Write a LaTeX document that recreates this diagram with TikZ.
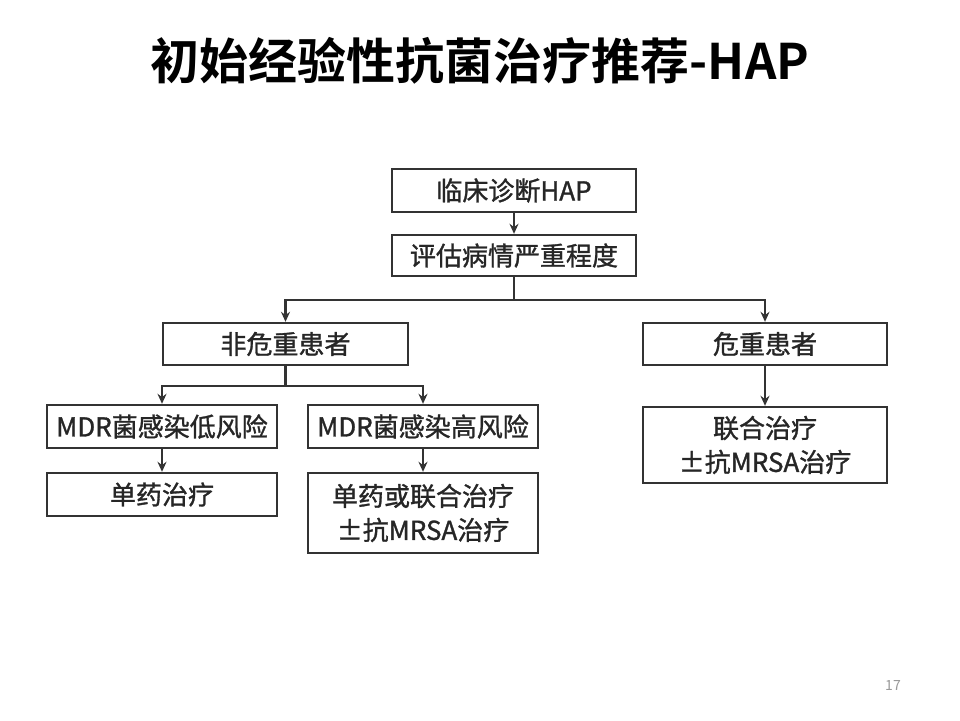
\documentclass[tikz,border=0pt]{standalone}
\usepackage{fontspec}
\newfontfamily\cjk{Noto Sans CJK SC}
\newfontfamily\cjkbox{Noto Sans CJK SC}[FakeBold=1.2]
\newfontfamily\cjkbold{Noto Sans CJK SC Bold}
\usetikzlibrary{arrows.meta}
\definecolor{linegray}{HTML}{333333}
\definecolor{pagegray}{HTML}{999999}
\tikzset{
    flowbox/.style={draw=linegray,line width=2.4pt,inner sep=0pt,align=center,
        font=\cjkbox\fontsize{26}{34}\selectfont,text=black!85},
    flowarrow/.style={draw=linegray,line width=2.2pt,-{Stealth[length=10pt,width=9pt]}},
    flowline/.style={draw=linegray,line width=2.2pt}
}
\begin{document}
\begin{tikzpicture}[x=1pt,y=-1pt]
                \useasboundingbox[fill=white] (0,0) rectangle (960,720);
                \node[font=\cjkbold\fontsize{49}{53}\selectfont] (title) at (480,61) {初始经验性抗菌治疗推荐-HAP};
                \node[font=\cjk\fontsize{14}{16}\selectfont,text=pagegray] (page) at (893,685) {17};
                \node[flowbox,minimum width=244pt,minimum height=43pt] (diag) at (514,190.5) {临床诊断HAP};
                \node[flowbox,minimum width=244pt,minimum height=41pt] (assess) at (514,255.5) {评估病情严重程度};
                \node[flowbox,minimum width=245pt,minimum height=42pt] (nonsev) at (285.5,344) {非危重患者};
                \node[flowbox,minimum width=244pt,minimum height=42pt] (sev) at (765,344) {危重患者};
                \node[flowbox,minimum width=230pt,minimum height=43pt] (low) at (162,426.5) {MDR菌感染低风险};
                \node[flowbox,minimum width=230pt,minimum height=43pt] (high) at (423,426.5) {MDR菌感染高风险};
                \node[flowbox,minimum width=230pt,minimum height=43pt] (mono) at (162,494.5) {单药治疗};
                \node[flowbox,minimum width=230pt,minimum height=80pt] (combo) at (423,513) {单药或联合治疗\\±抗MRSA治疗};
                \node[flowbox,minimum width=244pt,minimum height=76pt] (sevtx) at (765,445) {联合治疗\\±抗MRSA治疗};
                \coordinate (split1) at (514,300);
                \coordinate (split2) at (285.5,386);
                \draw[flowarrow] (diag) -- (assess);
                \draw[flowline] (assess) -- (split1);
                \draw[flowarrow] (split1) -| (nonsev);
                \draw[flowarrow] (split1) -| (sev);
                \draw[flowline] (nonsev) -- (split2);
                \draw[flowarrow] (split2) -| (low);
                \draw[flowarrow] (split2) -| (high);
                \draw[flowarrow] (low) -- (mono);
                \draw[flowarrow] (high) -- (combo);
                \draw[flowarrow] (sev) -- (sevtx);
\end{tikzpicture}
\end{document}
